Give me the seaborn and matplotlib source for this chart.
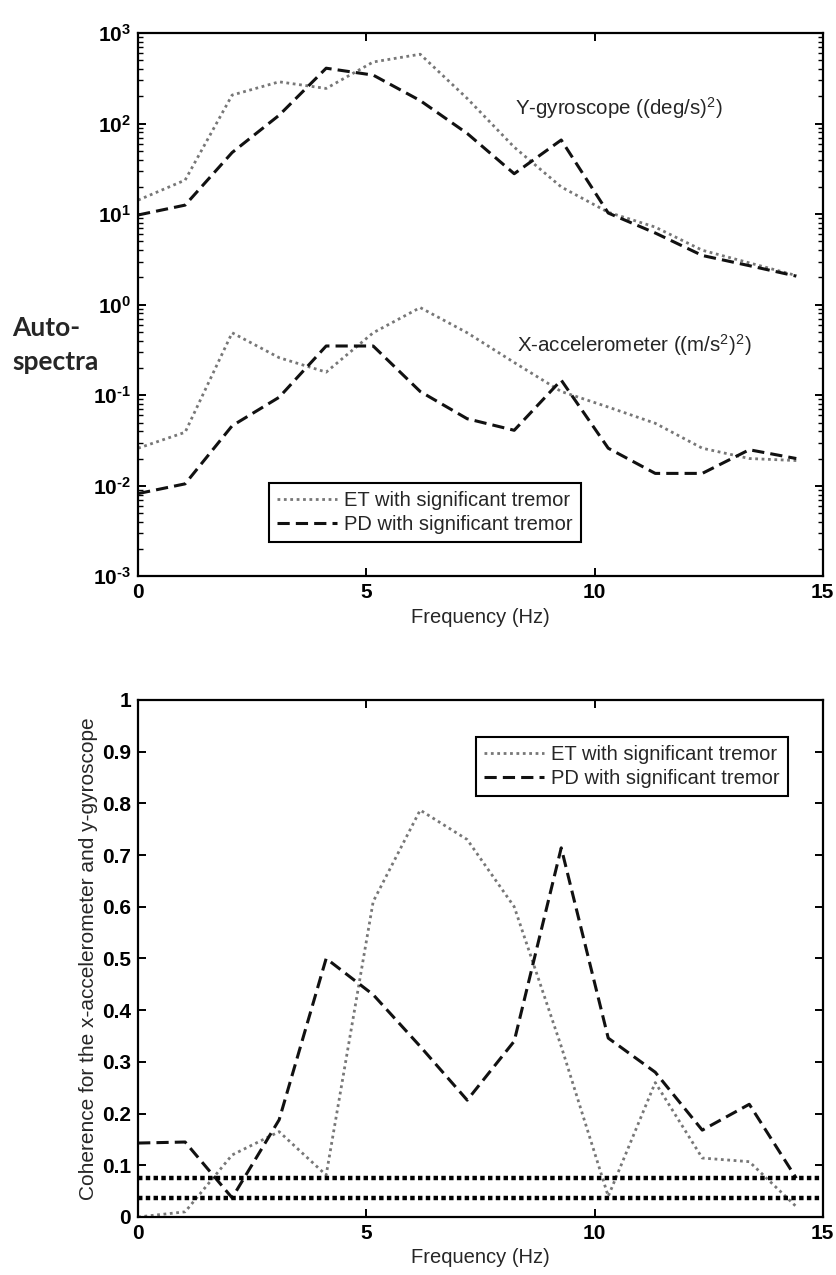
import numpy as np
import pandas as pd
import matplotlib
matplotlib.use("Agg")
import matplotlib.pyplot as plt
import seaborn as sns
from matplotlib.lines import Line2D
from matplotlib.ticker import LogLocator, NullFormatter, FixedLocator, FixedFormatter

# ---------------- data ----------------
freq = [0.0, 1.03, 2.06, 3.09, 4.12, 5.15, 6.18, 7.21, 8.24, 9.27, 10.3, 11.33, 12.36, 13.39, 14.42]

gyro_et = [14.3, 23.8, 207, 290, 245, 480, 585, 190, 55, 20, 10.5, 7.2, 4.0, 2.9, 2.1]
gyro_pd = [9.8, 12.6, 48, 124, 410, 344, 180, 78, 28, 66, 10.3, 6.2, 3.5, 2.7, 2.07]

acc_et = [0.026, 0.039, 0.49, 0.26, 0.18, 0.49, 0.93, 0.49, 0.23, 0.11, 0.074, 0.049, 0.026, 0.020, 0.019]
acc_pd = [0.0082, 0.0105, 0.046, 0.095, 0.35, 0.35, 0.11, 0.055, 0.041, 0.147, 0.026, 0.0137, 0.0137, 0.025, 0.020]

coh_et = [0.0, 0.01, 0.12, 0.165, 0.081, 0.61, 0.787, 0.73, 0.60, 0.33, 0.04, 0.26, 0.114, 0.107, 0.02]
coh_pd = [0.143, 0.145, 0.037, 0.188, 0.50, 0.43, 0.33, 0.226, 0.34, 0.714, 0.346, 0.28, 0.168, 0.218, 0.075]

thresholds = [0.075, 0.037]

legend_labels = ["ET with significant tremor", "PD with significant tremor"]

log_ticks = [1e-3, 1e-2, 1e-1, 1e0, 1e1, 1e2, 1e3]
log_tick_labels = ["10$^{\\text{-3}}$", "10$^{\\text{-2}}$", "10$^{\\text{-1}}$",
                   "10$^{\\text{0}}$", "10$^{\\text{1}}$", "10$^{\\text{2}}$", "10$^{\\text{3}}$"]
coh_ticks = [0, 0.1, 0.2, 0.3, 0.4, 0.5, 0.6, 0.7, 0.8, 0.9, 1.0]
coh_tick_labels = ["0", "0.1", "0.2", "0.3", "0.4", "0.5", "0.6", "0.7", "0.8", "0.9", "1"]
x_ticks = [0, 5, 10, 15]

# ---------------- style ----------------
sns.set_style("ticks")
plt.rcParams["font.family"] = ["Liberation Sans", "DejaVu Sans"]
plt.rcParams["mathtext.fontset"] = "custom"
plt.rcParams["mathtext.rm"] = "Liberation Sans:bold"
plt.rcParams["mathtext.it"] = "Liberation Sans:italic"
plt.rcParams["mathtext.bf"] = "Liberation Sans:bold"
plt.rcParams["mathtext.default"] = "rm"
plt.rcParams["axes.unicode_minus"] = False

ET_COLOR = "#777777"
PD_COLOR = "#111111"
ET_LS = (0, (1.0, 1.3))
PD_LS = (0, (4.0, 2.0))
ET_LW = 2.0
PD_LW = 2.2

fig = plt.figure(figsize=(8.37, 12.75), dpi=100)
ax1 = fig.add_axes([0.165, 0.548, 0.818, 0.426])
ax2 = fig.add_axes([0.165, 0.0455, 0.818, 0.4055])

def draw(ax, y_et, y_pd):
    sns.lineplot(x=freq, y=y_et, ax=ax, color=ET_COLOR, linestyle=ET_LS,
                 linewidth=ET_LW, estimator=None, sort=False)
    sns.lineplot(x=freq, y=y_pd, ax=ax, color=PD_COLOR, linestyle=PD_LS,
                 linewidth=PD_LW, estimator=None, sort=False)

# ---- top: auto-spectra ----
draw(ax1, gyro_et, gyro_pd)
draw(ax1, acc_et, acc_pd)
ax1.set_yscale("log")
ax1.set_ylim(1e-3, 1e3)
ax1.set_xlim(0, 15)
ax1.yaxis.set_major_locator(FixedLocator(log_ticks))
ax1.yaxis.set_major_formatter(FixedFormatter(log_tick_labels))
ax1.yaxis.set_minor_locator(LogLocator(base=10, subs=np.arange(2, 10), numticks=100))
ax1.yaxis.set_minor_formatter(NullFormatter())
ax1.set_xticks(x_ticks)
ax1.set_xlabel("Frequency (Hz)", fontsize=14.5, labelpad=4)
ax1.set_ylabel("")

ax1.text(8.25, 150, "Y-gyroscope ((deg/s)$^{\\mathregular{2}}$)", fontsize=14.8, va="center", ha="left")
ax1.text(8.3, 0.36, "X-accelerometer ((m/s$^{\\mathregular{2}}$)$^{\\mathregular{2}}$)", fontsize=14.8, va="center", ha="left")

# ---- bottom: coherence ----
draw(ax2, coh_et, coh_pd)
for t in thresholds:
    ax2.axhline(t, color="black", linewidth=3.2, linestyle=(0, (1.0, 0.75)),
                dash_capstyle="butt")
ax2.set_xlim(0, 15)
ax2.set_ylim(0, 1)
ax2.set_xticks(x_ticks)
ax2.set_yticks(coh_ticks)
ax2.set_yticklabels(coh_tick_labels)
ax2.set_xlabel("Frequency (Hz)", fontsize=14.5, labelpad=4)
ax2.set_ylabel("Coherence for the x-accelerometer and y-gyroscope", fontsize=15, labelpad=3)

for ax in (ax1, ax2):
    for s in ax.spines.values():
        s.set_visible(True)
        s.set_linewidth(1.6)
        s.set_color("black")
    ax.tick_params(which="both", direction="in", top=True, right=True, colors="black")
    ax.tick_params(which="major", length=6, width=1.4, labelsize=15, pad=5)
    ax.tick_params(which="minor", length=3.5, width=1.0)
    for lab in ax.get_xticklabels() + ax.get_yticklabels():
        lab.set_fontweight("bold")

handles = [Line2D([0], [0], color=ET_COLOR, linestyle=ET_LS, linewidth=ET_LW),
           Line2D([0], [0], color=PD_COLOR, linestyle=PD_LS, linewidth=PD_LW)]

for ax, loc, anchor in ((ax1, "lower left", (0.191, 0.063)),
                        (ax2, "upper right", (0.949, 0.928))):
    leg = ax.legend(handles, legend_labels, loc=loc, bbox_to_anchor=anchor,
                    fontsize=14.5, frameon=True, fancybox=False, handlelength=3.0,
                    handletextpad=0.35, borderpad=0.4, labelspacing=0.25,
                    borderaxespad=0)
    fr = leg.get_frame()
    fr.set_edgecolor("black")
    fr.set_linewidth(1.5)
    fr.set_alpha(1)

fig.text(0.015, 0.7295, "Auto-\nspectra", fontsize=19, fontweight="bold",
         family=["Lato", "DejaVu Sans"], ha="left", va="center", linespacing=1.5)

fig.savefig("out.png", dpi=100, facecolor="white")
